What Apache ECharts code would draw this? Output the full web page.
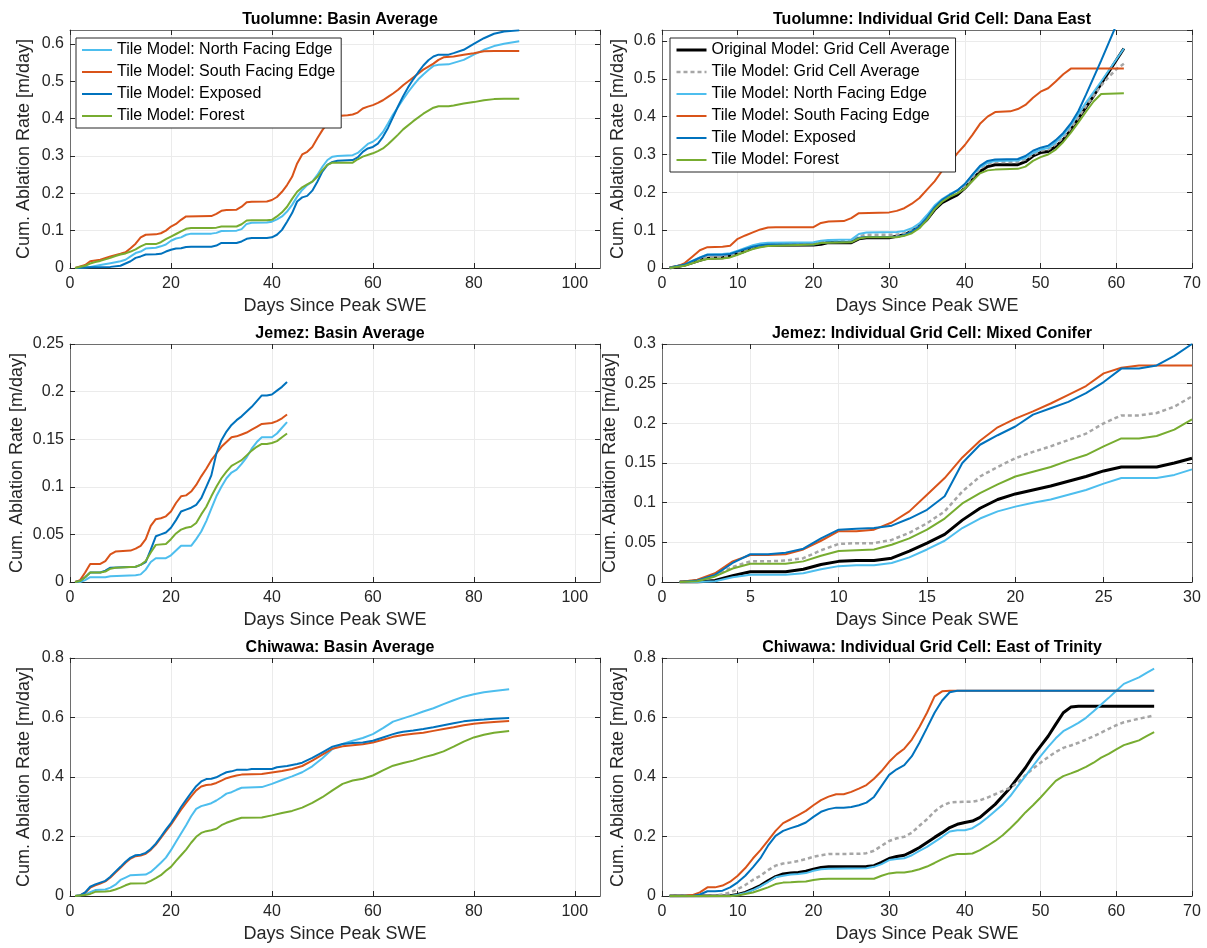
<!DOCTYPE html>
<html>
<head>
<meta charset="utf-8">
<script src="https://cdn.jsdelivr.net/npm/echarts@6/dist/echarts.min.js"></script>
<style>
  html, body { margin: 0; padding: 0; background: #fff; }
  #chart { width: 1207px; height: 948px; }
</style>
</head>
<body>
<div id="chart"></div>
<script>
// Cumulative ablation [m/day] against days since peak SWE, as [day, value] pairs.

// Tuolumne: basin average
const tuoNorth = [[1,0],[4,0.003],[6,0.008],[8,0.013],[10,0.018],[11,0.022],[12,0.031],[13,0.04],[14,0.044],[15,0.052],[17,0.054],[18,0.058],[19,0.063],[20,0.073],[21,0.079],[22,0.082],[23,0.089],[24,0.092],[28,0.092],[29,0.094],[30,0.099],[33,0.1],[34,0.104],[35,0.118],[36,0.121],[39,0.122],[40,0.124],[41,0.13],[42,0.138],[43,0.151],[44,0.169],[45,0.191],[46,0.209],[47,0.222],[48,0.231],[49,0.249],[50,0.271],[51,0.289],[52,0.298],[53,0.3],[56,0.302],[57,0.308],[58,0.32],[59,0.332],[60,0.338],[61,0.348],[62,0.364],[63,0.387],[64,0.411],[65,0.431],[66,0.452],[67,0.471],[68,0.489],[69,0.505],[70,0.518],[71,0.53],[72,0.541],[73,0.544],[75,0.545],[76,0.549],[78,0.557],[80,0.571],[82,0.584],[84,0.594],[86,0.6],[89,0.607]];
const tuoSouth = [[1,0],[3,0.008],[4,0.018],[5,0.02],[6,0.022],[8,0.031],[10,0.038],[11,0.042],[12,0.053],[13,0.065],[14,0.082],[15,0.089],[17,0.09],[18,0.093],[19,0.1],[20,0.111],[21,0.118],[22,0.129],[23,0.138],[28,0.139],[29,0.145],[30,0.153],[31,0.155],[33,0.156],[34,0.164],[35,0.176],[36,0.177],[39,0.178],[40,0.182],[41,0.19],[42,0.204],[43,0.222],[44,0.244],[45,0.28],[46,0.304],[47,0.311],[48,0.324],[49,0.347],[50,0.369],[51,0.387],[52,0.404],[53,0.407],[55,0.409],[56,0.411],[57,0.416],[58,0.427],[59,0.432],[60,0.436],[61,0.442],[62,0.449],[63,0.458],[64,0.467],[65,0.477],[66,0.489],[68,0.51],[70,0.531],[72,0.547],[73,0.557],[74,0.564],[76,0.566],[78,0.571],[80,0.575],[82,0.58],[84,0.581],[89,0.581]];
const tuoExposed = [[1,0],[4,0.002],[8,0.003],[10,0.006],[11,0.012],[12,0.018],[13,0.027],[14,0.031],[15,0.036],[17,0.037],[18,0.038],[19,0.044],[20,0.049],[21,0.052],[22,0.053],[23,0.056],[24,0.057],[28,0.057],[29,0.06],[30,0.067],[33,0.067],[34,0.071],[35,0.078],[36,0.08],[39,0.08],[40,0.082],[41,0.089],[42,0.102],[43,0.124],[44,0.147],[45,0.178],[46,0.189],[47,0.193],[48,0.207],[49,0.231],[50,0.258],[51,0.276],[52,0.284],[53,0.287],[56,0.289],[57,0.296],[58,0.311],[59,0.32],[60,0.324],[61,0.333],[62,0.351],[63,0.375],[64,0.404],[65,0.433],[66,0.46],[67,0.484],[68,0.505],[69,0.524],[70,0.542],[71,0.556],[72,0.566],[73,0.571],[75,0.571],[76,0.575],[78,0.584],[80,0.6],[82,0.615],[84,0.627],[86,0.633],[89,0.636]];
const tuoForest = [[1,0],[3,0.006],[4,0.012],[5,0.016],[6,0.019],[7,0.023],[8,0.027],[9,0.032],[10,0.036],[11,0.039],[12,0.044],[13,0.05],[14,0.058],[15,0.064],[17,0.064],[18,0.069],[19,0.077],[20,0.084],[21,0.091],[22,0.098],[23,0.105],[24,0.107],[28,0.107],[29,0.108],[30,0.111],[33,0.111],[34,0.117],[35,0.127],[36,0.128],[39,0.128],[40,0.129],[41,0.138],[42,0.149],[43,0.164],[44,0.185],[45,0.204],[46,0.216],[47,0.224],[48,0.231],[49,0.244],[50,0.262],[51,0.276],[52,0.282],[56,0.282],[57,0.291],[58,0.298],[60,0.307],[61,0.313],[62,0.32],[63,0.331],[64,0.344],[65,0.357],[66,0.371],[68,0.393],[70,0.413],[72,0.429],[73,0.433],[75,0.433],[76,0.435],[78,0.44],[80,0.444],[82,0.449],[84,0.452],[86,0.453],[89,0.453]];

// Tuolumne: grid cell Dana East
const danaOriginal = [[1,0],[3,0.008],[5,0.02],[6,0.026],[8,0.027],[9,0.031],[10,0.038],[11,0.045],[12,0.053],[13,0.058],[14,0.06],[20,0.061],[21,0.063],[22,0.067],[25,0.067],[26,0.077],[27,0.08],[30,0.08],[31,0.084],[32,0.088],[33,0.097],[34,0.11],[35,0.128],[36,0.154],[37,0.173],[38,0.183],[39,0.193],[40,0.211],[41,0.233],[42,0.255],[43,0.268],[44,0.273],[47,0.273],[48,0.281],[49,0.296],[50,0.305],[51,0.308],[52,0.321],[53,0.339],[54,0.365],[55,0.395],[56,0.425],[57,0.455],[58,0.487],[59,0.518],[60,0.549],[61,0.58]];
const danaTile = [[1,0],[3,0.009],[5,0.022],[6,0.029],[8,0.03],[9,0.033],[10,0.04],[11,0.047],[12,0.055],[13,0.06],[14,0.063],[20,0.064],[21,0.069],[22,0.072],[25,0.073],[26,0.084],[27,0.088],[31,0.088],[32,0.092],[33,0.1],[34,0.113],[35,0.133],[36,0.16],[37,0.18],[38,0.19],[39,0.2],[40,0.217],[41,0.24],[42,0.262],[43,0.275],[44,0.28],[47,0.28],[48,0.287],[49,0.3],[50,0.31],[51,0.313],[52,0.327],[53,0.345],[54,0.37],[55,0.398],[56,0.428],[57,0.455],[58,0.482],[59,0.505],[60,0.525],[61,0.54]];
const danaNorth = [[1,0],[3,0.01],[5,0.028],[6,0.036],[8,0.037],[9,0.039],[10,0.046],[11,0.053],[12,0.06],[13,0.065],[14,0.067],[20,0.068],[21,0.072],[22,0.074],[25,0.075],[26,0.09],[27,0.094],[31,0.095],[32,0.098],[33,0.105],[34,0.118],[35,0.14],[36,0.165],[37,0.182],[38,0.195],[39,0.205],[40,0.222],[41,0.245],[42,0.266],[43,0.278],[44,0.283],[47,0.284],[48,0.291],[49,0.304],[50,0.313],[51,0.317],[52,0.332],[53,0.352],[54,0.378],[55,0.407],[56,0.437],[57,0.465],[58,0.493],[59,0.522],[60,0.551],[61,0.58]];
const danaSouth = [[1,0],[2,0.004],[3,0.013],[4,0.03],[5,0.047],[6,0.055],[8,0.056],[9,0.059],[10,0.077],[11,0.086],[12,0.094],[13,0.102],[14,0.107],[15,0.108],[20,0.108],[21,0.119],[22,0.123],[24,0.124],[25,0.132],[26,0.145],[30,0.147],[31,0.151],[32,0.158],[33,0.17],[34,0.185],[35,0.207],[36,0.229],[37,0.257],[38,0.277],[39,0.303],[40,0.325],[41,0.352],[42,0.381],[43,0.4],[44,0.412],[46,0.414],[47,0.42],[48,0.431],[49,0.45],[50,0.466],[51,0.475],[52,0.493],[53,0.512],[54,0.527],[61,0.527]];
const danaExposed = [[1,0],[3,0.009],[5,0.027],[6,0.035],[8,0.035],[9,0.037],[10,0.044],[11,0.05],[12,0.056],[13,0.06],[14,0.062],[20,0.062],[21,0.066],[22,0.068],[25,0.069],[26,0.08],[27,0.082],[31,0.082],[32,0.087],[33,0.097],[34,0.11],[35,0.133],[36,0.16],[37,0.18],[38,0.193],[39,0.205],[40,0.222],[41,0.247],[42,0.27],[43,0.283],[44,0.287],[47,0.288],[48,0.296],[49,0.31],[50,0.318],[51,0.323],[52,0.338],[53,0.357],[54,0.382],[55,0.415],[56,0.458],[57,0.503],[58,0.548],[59,0.595],[60,0.642],[61,0.69]];
const danaForest = [[1,0],[3,0.006],[5,0.019],[6,0.024],[8,0.025],[9,0.028],[10,0.035],[11,0.043],[12,0.05],[13,0.055],[14,0.058],[20,0.062],[21,0.066],[22,0.067],[25,0.068],[26,0.078],[27,0.081],[31,0.081],[32,0.085],[33,0.092],[34,0.105],[35,0.127],[36,0.155],[37,0.175],[38,0.188],[39,0.197],[40,0.21],[41,0.23],[42,0.25],[43,0.258],[44,0.26],[47,0.262],[48,0.268],[49,0.283],[50,0.293],[51,0.3],[52,0.313],[53,0.333],[54,0.358],[55,0.385],[56,0.413],[57,0.44],[58,0.46],[61,0.462]];

// Jemez: basin average
const jemNorth = [[1,0],[2,0],[3,0.002],[4,0.005],[7,0.005],[8,0.006],[13,0.007],[14,0.008],[15,0.013],[16,0.021],[17,0.025],[19,0.025],[20,0.028],[21,0.033],[22,0.038],[24,0.038],[25,0.045],[26,0.053],[27,0.064],[28,0.077],[29,0.09],[30,0.1],[31,0.109],[32,0.115],[33,0.118],[34,0.124],[35,0.131],[36,0.14],[37,0.147],[38,0.152],[40,0.152],[41,0.156],[42,0.162],[43,0.168]];
const jemSouth = [[1,0],[2,0.002],[3,0.01],[4,0.019],[6,0.019],[7,0.022],[8,0.029],[9,0.032],[12,0.033],[13,0.035],[14,0.038],[15,0.045],[16,0.059],[17,0.066],[18,0.067],[19,0.069],[20,0.074],[21,0.083],[22,0.09],[23,0.091],[24,0.095],[25,0.102],[26,0.111],[27,0.119],[28,0.128],[29,0.135],[30,0.142],[31,0.147],[32,0.152],[33,0.153],[34,0.155],[35,0.157],[36,0.16],[37,0.163],[38,0.166],[40,0.167],[41,0.169],[42,0.172],[43,0.176]];
const jemExposed = [[1,0],[2,0.001],[3,0.005],[4,0.01],[6,0.01],[7,0.012],[8,0.015],[13,0.016],[14,0.018],[15,0.021],[16,0.034],[17,0.048],[18,0.05],[19,0.052],[20,0.057],[21,0.065],[22,0.074],[23,0.076],[24,0.078],[25,0.081],[26,0.088],[27,0.1],[28,0.112],[29,0.135],[30,0.149],[31,0.158],[32,0.165],[33,0.17],[34,0.174],[35,0.179],[36,0.184],[37,0.19],[38,0.196],[39,0.196],[40,0.197],[41,0.201],[42,0.205],[43,0.21]];
const jemForest = [[1,0],[2,0.001],[3,0.005],[4,0.01],[6,0.01],[7,0.011],[8,0.014],[9,0.015],[13,0.016],[14,0.018],[15,0.022],[16,0.031],[17,0.039],[19,0.04],[20,0.045],[21,0.051],[22,0.055],[23,0.057],[24,0.058],[25,0.062],[26,0.071],[27,0.079],[28,0.09],[29,0.1],[30,0.109],[31,0.116],[32,0.122],[33,0.125],[34,0.128],[35,0.133],[36,0.138],[37,0.142],[38,0.145],[39,0.145],[40,0.146],[41,0.148],[42,0.152],[43,0.156]];

// Jemez: grid cell Mixed Conifer
const conOriginal = [[1,0],[2,0],[3,0.002],[4,0.008],[5,0.013],[7,0.013],[8,0.016],[9,0.022],[10,0.026],[11,0.027],[12,0.027],[13,0.03],[14,0.039],[15,0.049],[16,0.06],[17,0.078],[18,0.093],[19,0.104],[20,0.111],[21,0.116],[22,0.121],[23,0.127],[24,0.133],[25,0.14],[26,0.145],[28,0.145],[29,0.15],[30,0.156]];
const conTile = [[1,0],[2,0.002],[3,0.008],[4,0.019],[5,0.026],[6,0.026],[7,0.027],[8,0.03],[9,0.04],[10,0.048],[11,0.049],[12,0.049],[13,0.053],[14,0.062],[15,0.074],[16,0.089],[17,0.114],[18,0.133],[19,0.145],[20,0.156],[21,0.164],[22,0.171],[23,0.179],[24,0.187],[25,0.2],[26,0.21],[27,0.21],[28,0.213],[29,0.221],[30,0.234]];
const conNorth = [[1,0],[2,0],[3,0.001],[4,0.006],[5,0.009],[7,0.009],[8,0.011],[9,0.016],[10,0.02],[11,0.021],[12,0.021],[13,0.024],[14,0.031],[15,0.041],[16,0.052],[17,0.068],[18,0.08],[19,0.089],[20,0.095],[21,0.1],[22,0.104],[23,0.11],[24,0.116],[25,0.124],[26,0.131],[28,0.131],[29,0.135],[30,0.142]];
const conSouth = [[1,0],[2,0.003],[3,0.011],[4,0.026],[5,0.034],[6,0.034],[7,0.035],[8,0.041],[9,0.052],[10,0.064],[11,0.064],[12,0.066],[13,0.075],[14,0.089],[15,0.11],[16,0.131],[17,0.157],[18,0.178],[19,0.195],[20,0.206],[21,0.215],[22,0.225],[23,0.236],[24,0.247],[25,0.263],[26,0.27],[27,0.273],[30,0.273]];
const conExposed = [[1,0],[2,0.002],[3,0.009],[4,0.024],[5,0.035],[6,0.035],[7,0.037],[8,0.042],[9,0.055],[10,0.066],[11,0.067],[12,0.068],[13,0.071],[14,0.08],[15,0.091],[16,0.108],[17,0.15],[18,0.173],[19,0.185],[20,0.196],[21,0.211],[22,0.219],[23,0.227],[24,0.238],[25,0.252],[26,0.269],[27,0.269],[28,0.273],[29,0.285],[30,0.3]];
const conForest = [[1,0],[2,0.001],[3,0.007],[4,0.017],[5,0.023],[7,0.023],[8,0.026],[9,0.033],[10,0.039],[11,0.04],[12,0.041],[13,0.047],[14,0.055],[15,0.066],[16,0.08],[17,0.099],[18,0.112],[19,0.123],[20,0.133],[21,0.139],[22,0.145],[23,0.153],[24,0.16],[25,0.171],[26,0.181],[27,0.181],[28,0.184],[29,0.192],[30,0.205]];

// Chiwawa: basin average
const chiNorth = [[1,0],[3,0.006],[4,0.013],[5,0.02],[6,0.021],[7,0.022],[8,0.028],[9,0.038],[10,0.054],[11,0.062],[12,0.07],[15,0.072],[16,0.081],[17,0.096],[18,0.112],[19,0.129],[20,0.154],[21,0.182],[22,0.21],[23,0.238],[24,0.268],[25,0.293],[26,0.302],[27,0.307],[28,0.312],[29,0.321],[30,0.332],[31,0.344],[32,0.349],[33,0.357],[34,0.364],[38,0.366],[40,0.377],[42,0.39],[44,0.402],[46,0.416],[48,0.436],[50,0.463],[52,0.494],[54,0.511],[56,0.522],[58,0.531],[60,0.544],[62,0.564],[64,0.586],[66,0.597],[68,0.608],[70,0.62],[72,0.631],[74,0.645],[76,0.658],[78,0.67],[80,0.678],[82,0.685],[84,0.689],[87,0.695]];
const chiSouth = [[1,0],[2,0.002],[3,0.011],[4,0.028],[5,0.036],[6,0.042],[7,0.049],[8,0.062],[9,0.079],[10,0.095],[11,0.112],[12,0.126],[13,0.134],[14,0.136],[15,0.142],[16,0.155],[17,0.173],[18,0.195],[19,0.218],[20,0.24],[21,0.265],[22,0.29],[23,0.313],[24,0.335],[25,0.355],[26,0.368],[27,0.373],[28,0.375],[29,0.38],[30,0.388],[31,0.396],[32,0.401],[33,0.405],[34,0.408],[38,0.41],[40,0.415],[42,0.42],[44,0.427],[46,0.437],[48,0.455],[50,0.475],[52,0.495],[54,0.503],[56,0.507],[58,0.51],[60,0.516],[62,0.525],[64,0.535],[66,0.541],[68,0.545],[70,0.549],[72,0.555],[74,0.561],[76,0.567],[78,0.574],[80,0.579],[82,0.582],[84,0.585],[87,0.588]];
const chiExposed = [[1,0],[2,0.002],[3,0.012],[4,0.031],[5,0.039],[6,0.045],[7,0.051],[8,0.065],[9,0.082],[10,0.098],[11,0.115],[12,0.129],[13,0.137],[14,0.139],[15,0.145],[16,0.158],[17,0.176],[18,0.199],[19,0.223],[20,0.245],[21,0.271],[22,0.299],[23,0.323],[24,0.347],[25,0.369],[26,0.385],[27,0.393],[28,0.394],[29,0.399],[30,0.408],[31,0.416],[32,0.419],[33,0.424],[35,0.424],[36,0.427],[40,0.427],[41,0.433],[43,0.437],[45,0.444],[46,0.448],[48,0.464],[50,0.483],[52,0.502],[54,0.511],[56,0.514],[58,0.516],[60,0.522],[62,0.533],[64,0.544],[65,0.549],[66,0.552],[68,0.556],[70,0.561],[72,0.567],[74,0.574],[76,0.581],[78,0.587],[80,0.591],[82,0.593],[84,0.596],[87,0.598]];
const chiForest = [[1,0],[3,0.003],[4,0.007],[5,0.014],[7,0.015],[8,0.017],[9,0.022],[10,0.028],[11,0.036],[12,0.042],[15,0.043],[16,0.051],[17,0.06],[18,0.07],[19,0.085],[20,0.098],[21,0.118],[22,0.137],[23,0.156],[24,0.179],[25,0.199],[26,0.212],[27,0.218],[28,0.221],[29,0.226],[30,0.238],[31,0.246],[32,0.252],[33,0.258],[34,0.263],[38,0.264],[40,0.271],[42,0.279],[44,0.286],[46,0.297],[48,0.313],[50,0.332],[52,0.355],[54,0.377],[56,0.388],[58,0.394],[60,0.405],[62,0.422],[64,0.438],[66,0.447],[68,0.455],[70,0.466],[72,0.475],[74,0.486],[76,0.502],[78,0.519],[80,0.533],[82,0.542],[84,0.549],[87,0.555]];

// Chiwawa: grid cell East of Trinity
const triOriginal = [[1,0],[9,0.001],[10,0.005],[11,0.012],[12,0.023],[13,0.035],[14,0.051],[15,0.065],[16,0.074],[17,0.077],[18,0.079],[19,0.083],[20,0.09],[21,0.096],[22,0.098],[27,0.099],[28,0.102],[29,0.113],[30,0.126],[31,0.133],[32,0.137],[33,0.149],[34,0.163],[35,0.18],[36,0.197],[37,0.213],[38,0.23],[39,0.241],[40,0.247],[41,0.252],[42,0.264],[43,0.286],[44,0.308],[45,0.336],[46,0.364],[47,0.398],[48,0.431],[49,0.47],[50,0.504],[51,0.537],[52,0.577],[53,0.616],[54,0.635],[55,0.638],[65,0.638]];
const triTile = [[1,0],[6,0],[7,0.002],[8,0.005],[9,0.012],[10,0.023],[11,0.037],[12,0.054],[13,0.068],[14,0.087],[15,0.102],[16,0.109],[17,0.113],[18,0.118],[19,0.124],[20,0.132],[21,0.137],[22,0.141],[26,0.142],[27,0.144],[28,0.152],[29,0.169],[30,0.185],[31,0.194],[32,0.199],[33,0.213],[34,0.236],[35,0.258],[36,0.284],[37,0.303],[38,0.314],[39,0.316],[41,0.317],[42,0.322],[43,0.331],[44,0.342],[45,0.353],[46,0.364],[47,0.381],[48,0.406],[49,0.428],[50,0.448],[51,0.467],[52,0.484],[53,0.498],[54,0.506],[55,0.515],[56,0.526],[57,0.537],[58,0.549],[59,0.562],[60,0.574],[61,0.584],[62,0.59],[63,0.596],[64,0.601],[65,0.607]];
const triNorth = [[1,0],[9,0],[10,0.004],[11,0.01],[12,0.02],[13,0.032],[14,0.047],[15,0.063],[16,0.068],[17,0.072],[18,0.074],[19,0.077],[20,0.085],[21,0.09],[22,0.092],[27,0.093],[28,0.098],[29,0.107],[30,0.121],[31,0.124],[32,0.127],[33,0.137],[34,0.152],[35,0.165],[36,0.182],[37,0.199],[38,0.217],[39,0.221],[40,0.221],[41,0.228],[42,0.244],[43,0.264],[44,0.286],[45,0.308],[46,0.336],[47,0.37],[48,0.403],[49,0.437],[50,0.47],[51,0.501],[52,0.53],[53,0.554],[54,0.568],[55,0.582],[56,0.599],[57,0.621],[58,0.644],[59,0.666],[60,0.69],[61,0.713],[62,0.724],[63,0.735],[64,0.75],[65,0.764]];
const triSouth = [[1,0],[3,0],[4,0.003],[5,0.012],[6,0.029],[7,0.029],[8,0.035],[9,0.048],[10,0.068],[11,0.094],[12,0.126],[13,0.154],[14,0.186],[15,0.219],[16,0.245],[17,0.258],[18,0.272],[19,0.286],[20,0.305],[21,0.322],[22,0.334],[23,0.342],[24,0.342],[25,0.35],[26,0.361],[27,0.373],[28,0.394],[29,0.42],[30,0.451],[31,0.476],[32,0.495],[33,0.526],[34,0.568],[35,0.616],[36,0.671],[37,0.688],[38,0.69],[65,0.69]];
const triExposed = [[1,0],[4,0],[5,0.005],[6,0.016],[7,0.016],[8,0.018],[9,0.029],[10,0.046],[11,0.068],[12,0.096],[13,0.127],[14,0.169],[15,0.202],[16,0.219],[17,0.228],[18,0.236],[19,0.247],[20,0.266],[21,0.283],[22,0.292],[23,0.297],[24,0.297],[25,0.299],[26,0.305],[27,0.314],[28,0.333],[29,0.37],[30,0.407],[31,0.426],[32,0.44],[33,0.47],[34,0.515],[35,0.565],[36,0.616],[37,0.657],[38,0.685],[39,0.69],[65,0.69]];
const triForest = [[1,0],[9,0],[10,0.002],[11,0.007],[12,0.012],[13,0.02],[14,0.029],[15,0.04],[16,0.045],[17,0.046],[18,0.048],[19,0.049],[20,0.054],[21,0.057],[22,0.058],[28,0.058],[29,0.068],[30,0.076],[31,0.079],[32,0.079],[33,0.083],[34,0.09],[35,0.099],[36,0.111],[37,0.124],[38,0.135],[39,0.141],[40,0.141],[41,0.143],[42,0.154],[43,0.169],[44,0.185],[45,0.204],[46,0.228],[47,0.253],[48,0.281],[49,0.305],[50,0.331],[51,0.359],[52,0.387],[53,0.403],[54,0.412],[55,0.422],[56,0.434],[57,0.448],[58,0.465],[59,0.478],[60,0.493],[61,0.507],[62,0.515],[63,0.523],[64,0.537],[65,0.551]];

// Series names and panel titles
const nameOriginal = 'Original Model: Grid Cell Average';
const nameTile = 'Tile Model: Grid Cell Average';
const nameNorth = 'Tile Model: North Facing Edge';
const nameSouth = 'Tile Model: South Facing Edge';
const nameExposed = 'Tile Model: Exposed';
const nameForest = 'Tile Model: Forest';
const xAxisName = 'Days Since Peak SWE';
const yAxisName = 'Cum. Ablation Rate [m/day]';

const FONT = '"Liberation Sans", Arial, Helvetica, sans-serif';
const AX = '#262626';
const BOX = '#6e6e6e';

// Line styles per model
const styles = {};
styles[nameOriginal] = { color: '#000000', width: 3, type: 'solid' };
styles[nameTile] = { color: '#a6a6a6', width: 2.5, type: [4, 3] };
styles[nameNorth] = { color: '#4DBEEE', width: 2, type: 'solid' };
styles[nameSouth] = { color: '#D95319', width: 2, type: 'solid' };
styles[nameExposed] = { color: '#0072BD', width: 2, type: 'solid' };
styles[nameForest] = { color: '#77AC30', width: 2, type: 'solid' };

const panels = [
  { title: 'Tuolumne: Basin Average', col: 0, row: 0, xMax: 105, xStep: 20, yMax: 0.637, yStep: 0.1, nameGap: 37,
    lines: [[nameNorth, tuoNorth], [nameSouth, tuoSouth], [nameExposed, tuoExposed], [nameForest, tuoForest]] },
  { title: 'Tuolumne: Individual Grid Cell: Dana East', col: 1, row: 0, xMax: 70, xStep: 10, yMax: 0.629, yStep: 0.1, nameGap: 35,
    lines: [[nameOriginal, danaOriginal], [nameTile, danaTile], [nameNorth, danaNorth], [nameSouth, danaSouth], [nameExposed, danaExposed], [nameForest, danaForest]] },
  { title: 'Jemez: Basin Average', col: 0, row: 1, xMax: 105, xStep: 20, yMax: 0.25, yStep: 0.05, nameGap: 44,
    lines: [[nameNorth, jemNorth], [nameSouth, jemSouth], [nameExposed, jemExposed], [nameForest, jemForest]] },
  { title: 'Jemez: Individual Grid Cell: Mixed Conifer', col: 1, row: 1, xMax: 30, xStep: 5, yMax: 0.3, yStep: 0.05, nameGap: 43,
    lines: [[nameOriginal, conOriginal], [nameTile, conTile], [nameNorth, conNorth], [nameSouth, conSouth], [nameExposed, conExposed], [nameForest, conForest]] },
  { title: 'Chiwawa: Basin Average', col: 0, row: 2, xMax: 105, xStep: 20, yMax: 0.8, yStep: 0.2, nameGap: 37,
    lines: [[nameNorth, chiNorth], [nameSouth, chiSouth], [nameExposed, chiExposed], [nameForest, chiForest]] },
  { title: 'Chiwawa: Individual Grid Cell: East of Trinity', col: 1, row: 2, xMax: 70, xStep: 10, yMax: 0.8, yStep: 0.2, nameGap: 35,
    lines: [[nameOriginal, triOriginal], [nameTile, triTile], [nameNorth, triNorth], [nameSouth, triSouth], [nameExposed, triExposed], [nameForest, triForest]] }
];

const colLeft = [70, 662];
const rowTop = [30, 344, 658];
const plotW = 530, plotH = 238;

const grid = [], xAxis = [], yAxis = [], series = [], title = [];

panels.forEach((p, i) => {
  const left = colLeft[p.col], top = rowTop[p.row];
  grid.push({ left: left, top: top, width: plotW, height: plotH, containLabel: false });
  title.push({
    text: p.title, left: left + plotW / 2, top: top - 23, textAlign: 'center',
    textStyle: { fontFamily: FONT, fontSize: 16, fontWeight: 'bold', color: '#000' }
  });
  const xBase = { type: 'value', gridIndex: i, min: 0, max: p.xMax, interval: p.xStep };
  const yBase = { type: 'value', gridIndex: i, min: 0, max: p.yMax, interval: p.yStep };
  const tick = { show: true, inside: true, length: 5, lineStyle: { color: AX, width: 1 } };
  const mainLine = { show: true, onZero: false, lineStyle: { color: AX, width: 1 } };
  const boxLine = { show: true, onZero: false, lineStyle: { color: BOX, width: 1 } };
  xAxis.push(Object.assign({}, xBase, {
    position: 'bottom', axisLine: mainLine, axisTick: tick,
    axisLabel: { color: AX, fontFamily: FONT, fontSize: 16, margin: 8, showMaxLabel: p.xMax % p.xStep === 0 },
    splitLine: { show: true, lineStyle: { color: '#ebebeb', width: 1 } },
    name: xAxisName, nameLocation: 'middle', nameGap: 29,
    nameTextStyle: { color: AX, fontFamily: FONT, fontSize: 18 }
  }));
  xAxis.push(Object.assign({}, xBase, {
    position: 'top', axisLine: boxLine, axisTick: tick, axisLabel: { show: false }, splitLine: { show: false }
  }));
  const yExact = Math.abs(Math.round(p.yMax / p.yStep) * p.yStep - p.yMax) < 1e-9;
  yAxis.push(Object.assign({}, yBase, {
    position: 'left', axisLine: boxLine, axisTick: tick,
    axisLabel: { color: AX, fontFamily: FONT, fontSize: 16, margin: 6, showMaxLabel: yExact },
    splitLine: { show: true, lineStyle: { color: '#ebebeb', width: 1 } },
    name: yAxisName, nameLocation: 'middle', nameGap: p.nameGap,
    nameTextStyle: { color: AX, fontFamily: FONT, fontSize: 18 }
  }));
  yAxis.push(Object.assign({}, yBase, {
    position: 'right', axisLine: boxLine, axisTick: tick, axisLabel: { show: false }, splitLine: { show: false }
  }));
  p.lines.forEach(([name, data]) => {
    const s = styles[name];
    series.push({
      type: 'line', name: name, data: data,
      xAxisIndex: 2 * i, yAxisIndex: 2 * i,
      symbol: 'none', showSymbol: false, clip: true, smooth: false,
      lineStyle: { color: s.color, width: s.width, type: s.type },
      itemStyle: { color: s.color, opacity: 0 },
      emphasis: { disabled: true }
    });
  });
});

// Legends: line samples only, no marker in the middle
const legendBase = {
  orient: 'vertical', itemWidth: 30, itemHeight: 14, itemGap: 6,
  backgroundColor: '#ffffff', borderColor: '#262626', borderWidth: 1, borderRadius: 0,
  padding: [4, 6, 4, 5], selectedMode: false,
  textStyle: { fontFamily: FONT, fontSize: 16, color: '#000' },
  itemStyle: { opacity: 0, borderWidth: 0 },
  lineStyle: { width: 'inherit' }
};
const legend = [
  Object.assign({}, legendBase, { left: 76, top: 38, data: [nameNorth, nameSouth, nameExposed, nameForest] }),
  Object.assign({}, legendBase, { left: 670, top: 38, data: [nameOriginal, nameTile, nameNorth, nameSouth, nameExposed, nameForest] })
];

const chart = echarts.init(document.getElementById('chart'), null, { renderer: 'canvas' });
chart.setOption({
  animation: false,
  backgroundColor: '#ffffff',
  title: title, grid: grid, xAxis: xAxis, yAxis: yAxis, legend: legend, series: series
});
</script>
</body>
</html>
